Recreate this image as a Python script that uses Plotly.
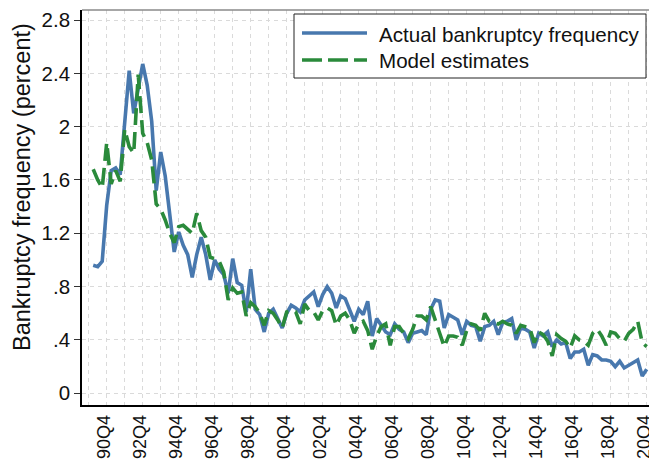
import plotly.graph_objects as go

# Quarterly data 1990Q1 .. 2020Q4 (index 0 = 1990Q1)
actual = [0.96, 0.95, 0.99, 1.41, 1.67, 1.69, 1.64, 2.04, 2.42, 2.10,
          2.29, 2.47, 2.31, 2.04, 1.52, 1.81, 1.63, 1.36, 1.06, 1.21,
          1.11, 1.04, 0.87, 1.04, 1.17, 1.04, 0.85, 1.00, 0.93, 0.89,
          0.75, 1.01, 0.83, 0.81, 0.61, 0.93, 0.63, 0.59, 0.46, 0.60,
          0.63, 0.56, 0.49, 0.60, 0.66, 0.64, 0.61, 0.70, 0.73, 0.76,
          0.65, 0.74, 0.80, 0.75, 0.64, 0.73, 0.71, 0.62, 0.54, 0.63,
          0.59, 0.69, 0.43, 0.56, 0.51, 0.46, 0.44, 0.52, 0.48, 0.46,
          0.38, 0.45, 0.46, 0.47, 0.44, 0.63, 0.70, 0.69, 0.49, 0.59,
          0.57, 0.55, 0.44, 0.54, 0.51, 0.50, 0.39, 0.50, 0.51, 0.54,
          0.44, 0.53, 0.54, 0.56, 0.40, 0.49, 0.48, 0.46, 0.34, 0.45,
          0.43, 0.46, 0.35, 0.40, 0.37, 0.38, 0.26, 0.31, 0.31, 0.33,
          0.21, 0.29, 0.28, 0.25, 0.25, 0.24, 0.20, 0.24, 0.19, 0.21,
          0.23, 0.25, 0.13, 0.18]

model = [1.68, 1.60, 1.54, 1.88, 1.57, 1.67, 1.59, 1.98, 1.85, 1.80,
         2.39, 1.95, 1.88, 1.75, 1.42, 1.38, 1.30, 1.20, 1.13, 1.25,
         1.26, 1.23, 1.20, 1.35, 1.22, 1.17, 1.02, 1.01, 0.99, 0.91,
         0.70, 0.79, 0.75, 0.76, 0.58, 0.68, 0.65, 0.60, 0.51, 0.62,
         0.60, 0.55, 0.49, 0.61, 0.62, 0.61, 0.52, 0.67, 0.62, 0.61,
         0.55, 0.62, 0.64, 0.62, 0.51, 0.58, 0.60, 0.55, 0.45, 0.52,
         0.54, 0.47, 0.33, 0.43, 0.50, 0.52, 0.36, 0.50, 0.50, 0.45,
         0.41, 0.48, 0.58, 0.58, 0.55, 0.65, 0.55, 0.45, 0.35, 0.43,
         0.43, 0.42, 0.36, 0.47, 0.52, 0.51, 0.47, 0.60, 0.54, 0.53,
         0.52, 0.54, 0.52, 0.51, 0.45, 0.51, 0.50, 0.49, 0.38, 0.46,
         0.44, 0.39, 0.28, 0.44, 0.41, 0.39, 0.34, 0.43, 0.40, 0.39,
         0.36, 0.45, 0.48, 0.43, 0.36, 0.46, 0.45, 0.41, 0.39, 0.45,
         0.48, 0.54, 0.38, 0.35]

quarters = list(range(len(actual)))
x_tickvals = list(range(3, 124, 8))           # 90Q4, 92Q4, ... 20Q4
x_ticktext = ["90Q4", "92Q4", "94Q4", "96Q4", "98Q4", "00Q4", "02Q4", "04Q4",
              "06Q4", "08Q4", "10Q4", "12Q4", "14Q4", "16Q4", "18Q4", "20Q4"]
x_minorvals = list(range(-1, 124, 8))         # odd-year Q4 grid lines
y_tickvals = [0, 0.4, 0.8, 1.2, 1.6, 2.0, 2.4, 2.8]
y_ticktext = ["0", ".4", ".8", "1.2", "1.6", "2", "2.4", "2.8"]

series_names = ["Actual bankruptcy frequency", "Model estimates"]
BLUE = "#4878AE"
GREEN = "#2A8A3B"
FONT = "Liberation Sans, Arial, sans-serif"

W, H = 649, 459
L, R, T, B = 82, 0, 10, 54
PW, PH = W - L - R, H - T - B


def px(xp):
    return (xp - L) / PW


def py(yp):
    return 1 - (yp - T) / PH


fig = go.Figure()
fig.add_trace(go.Scatter(x=quarters, y=actual, mode="lines", name=series_names[0],
                         line=dict(color=BLUE, width=3.6), showlegend=False))
fig.add_trace(go.Scatter(x=quarters, y=model, mode="lines", name=series_names[1],
                         line=dict(color=GREEN, width=3.6, dash="17px,7px"),
                         showlegend=False))

GRID = "#DADADA"
fig.update_xaxes(range=[-2.49, 123.51], tickmode="array", tickvals=x_tickvals,
                 ticktext=x_ticktext, tickangle=-90, ticks="", ticklabelshift=-3,
                 ticklabelstandoff=1,
                 ticklabeloverflow="allow", automargin=False,
                 showgrid=True, gridcolor=GRID, gridwidth=1, griddash="4px,4px",
                 minor=dict(tickmode="array", tickvals=x_minorvals, showgrid=True,
                            gridcolor=GRID, gridwidth=1, griddash="4px,4px",
                            ticks=""),
                 showline=True, linecolor="black", linewidth=1.6, zeroline=False,
                 tickfont=dict(family=FONT, size=18, color="#111"))
fig.update_yaxes(range=[-0.088, 2.875], tickmode="array", tickvals=y_tickvals,
                 ticktext=y_ticktext, ticks="outside", ticklen=6, tickwidth=1,
                 tickcolor="#333", automargin=False,
                 showgrid=True, gridcolor=GRID, gridwidth=1, griddash="4px,4px",
                 showline=True, linecolor="black", linewidth=1.6, zeroline=False,
                 tickfont=dict(family=FONT, size=20.5, color="#111"))

shapes = [
    # top frame line
    dict(type="line", xref="paper", yref="paper", x0=0, x1=1, y0=1, y1=1,
         line=dict(color="#8A8A8A", width=1.5)),
    # legend box
    dict(type="rect", xref="paper", yref="paper", x0=px(294), x1=px(646), y0=py(78), y1=py(14),
         line=dict(color="#222", width=1), fillcolor="white", layer="above"),
    dict(type="line", xref="paper", yref="paper", x0=px(302), x1=px(367), y0=py(33), y1=py(33),
         line=dict(color=BLUE, width=3.6), layer="above"),
    dict(type="line", xref="paper", yref="paper", x0=px(302), x1=px(367), y0=py(60), y1=py(60),
         line=dict(color=GREEN, width=3.6, dash="20px,6px"), layer="above"),
]
annotations = [
    dict(text="Bankruptcy frequency (percent)", xref="paper", yref="paper",
         x=px(22), y=py(187), textangle=-90, showarrow=False,
         xanchor="center", yanchor="middle",
         font=dict(family=FONT, size=23.5, color="#111")),
    dict(text=series_names[0], xref="paper", yref="paper", x=px(377), y=py(34),
         showarrow=False, xanchor="left", yanchor="middle",
         font=dict(family=FONT, size=20.6, color="#111")),
    dict(text=series_names[1], xref="paper", yref="paper", x=px(377), y=py(60),
         showarrow=False, xanchor="left", yanchor="middle",
         font=dict(family=FONT, size=20.6, color="#111")),
]

fig.update_layout(width=W, height=H, margin=dict(l=L, r=R, t=T, b=B),
                  paper_bgcolor="white", plot_bgcolor="white",
                  shapes=shapes, annotations=annotations, showlegend=False,
                  font=dict(family=FONT, size=20, color="#111"))

fig.write_html("out.html")
